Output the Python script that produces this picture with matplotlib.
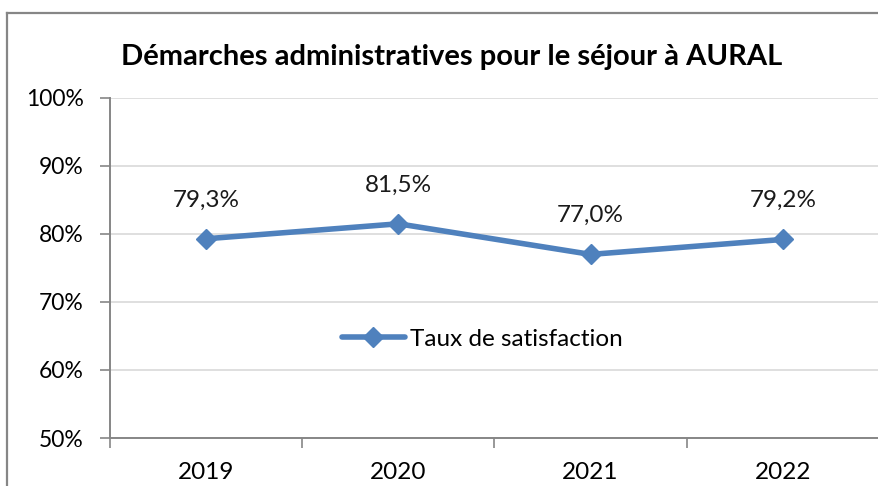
import matplotlib
matplotlib.use("Agg")
import matplotlib.pyplot as plt
from matplotlib.lines import Line2D
from matplotlib.ticker import FixedLocator, NullFormatter

# Données
annees = ["2019", "2020", "2021", "2022"]
taux = [79.3, 81.5, 77.0, 79.2]
etiquettes = ["79,3%", "81,5%", "77,0%", "79,2%"]
graduations = [50, 60, 70, 80, 90, 100]

bleu = "#4F81BD"
gris = "#868686"
police = ["Lato", "DejaVu Sans"]
plt.rcParams["font.family"] = police

fig = plt.figure(figsize=(8.79, 4.86), dpi=100)

# cadre du graphique (coupé à droite et en bas)
fig.add_artist(Line2D([7/879, 7/879], [0, 1 - 13/486], transform=fig.transFigure,
                      color=gris, lw=1.6))
fig.add_artist(Line2D([7/879, 1], [1 - 13/486, 1 - 13/486], transform=fig.transFigure,
                      color=gris, lw=1.6))

ax = fig.add_axes([110/879, 1 - 438/486, 769/879, 340/486])
x = [i + 0.5 for i in range(len(annees))]

ax.plot(x, taux, color=bleu, lw=4, marker="D", ms=10, mfc=bleu, mec=bleu,
        label="Taux de satisfaction", solid_capstyle="round")
for xi, yi, lab in zip(x, taux, etiquettes):
    ax.annotate(lab, (xi, yi), xytext=(0, 28), textcoords="offset points",
                ha="center", va="center", fontsize=17.5, color="#1a1a1a")

ax.set_xlim(0, 4)
ax.set_ylim(50, 100)
ax.set_yticks(graduations)
ax.set_yticklabels([f"{g}%" for g in graduations], fontsize=16.5)
ax.yaxis.grid(True, color="#D9D9D9", lw=1.2)
ax.set_axisbelow(True)

ax.xaxis.set_major_locator(FixedLocator([0, 1, 2, 3, 4]))
ax.xaxis.set_major_formatter(NullFormatter())
ax.xaxis.set_minor_locator(FixedLocator(x))
ax.set_xticklabels(annees, minor=True, fontsize=17.5)
ax.tick_params(axis="x", which="minor", length=0, pad=17)
ax.tick_params(axis="x", which="major", length=7, color=gris, width=1.2)
ax.tick_params(axis="y", length=7, color=gris, width=1.2, pad=12)

for s in ["top", "right"]:
    ax.spines[s].set_visible(False)
for s in ["left", "bottom"]:
    ax.spines[s].set_color(gris)
    ax.spines[s].set_linewidth(1.4)

ax.legend(loc="center", bbox_to_anchor=(0.484, 0.29), frameon=False, fontsize=17.5,
          handlelength=2.6, handletextpad=0.2)

fig.text(452/879, 1 - 57/486, "Démarches administratives pour le séjour à AURAL",
         ha="center", va="center", fontsize=21, fontweight="bold")

fig.savefig("out.png", dpi=100)
